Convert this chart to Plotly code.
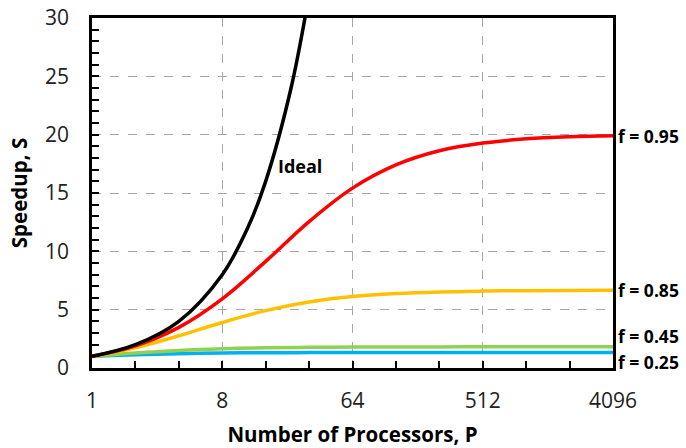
import plotly.graph_objects as go

# Number of processors (P)
processors = [1, 2, 4, 8, 16, 32, 64, 128, 256, 512, 1024, 2048, 4096]
ideal_p = [1, 2, 4, 8, 12, 16, 24, 32]
ideal_s = [1, 2, 4, 8, 12, 16, 24, 32]

speedup_095 = [1.00, 1.90, 3.48, 5.93, 9.14, 12.55, 15.42, 17.41, 18.62, 19.28, 19.64, 19.82, 19.91]
speedup_085 = [1.00, 1.74, 2.76, 3.90, 4.92, 5.66, 6.12, 6.38, 6.52, 6.59, 6.63, 6.65, 6.66]
speedup_045 = [1.00, 1.29, 1.51, 1.65, 1.73, 1.77, 1.80, 1.81, 1.81, 1.82, 1.82, 1.82, 1.82]
speedup_025 = [1.00, 1.14, 1.23, 1.28, 1.31, 1.32, 1.33, 1.33, 1.33, 1.33, 1.33, 1.33, 1.33]

series = [
    ("f = 0.25", speedup_025, "#00B0F0"),
    ("f = 0.45", speedup_045, "#92D050"),
    ("f = 0.85", speedup_085, "#FFC000"),
    ("f = 0.95", speedup_095, "#FF0000"),
]
label_y = {"f = 0.95": 19.9, "f = 0.85": 6.66, "f = 0.45": 2.75, "f = 0.25": 0.5}

x_ticks = [1, 8, 64, 512, 4096]
x_minor = [2, 4, 16, 32, 128, 256, 1024, 2048]
y_ticks = [0, 5, 10, 15, 20, 25, 30]

FONT = "Open Sans"

fig = go.Figure()
for name, vals, color in series:
    fig.add_trace(go.Scatter(x=processors, y=vals, mode="lines", name=name,
                             line=dict(color=color, width=3.5, shape="spline", smoothing=1.0)))
fig.add_trace(go.Scatter(x=ideal_p, y=ideal_s, mode="lines", name="Ideal",
                         line=dict(color="black", width=3.5, shape="spline", smoothing=1.0)))

annotations = []
for name, vals, color in series:
    annotations.append(dict(x=1, xref="paper", xanchor="left", xshift=3,
                            y=label_y[name], yref="y", yanchor="middle",
                            text="<b>" + name + "</b>", showarrow=False,
                            font=dict(family=FONT, size=17.5, color="black")))
annotations.append(dict(x=1.445, xref="x", y=17.3, yref="y", text="<b>Ideal</b>",
                        showarrow=False, font=dict(family=FONT, size=18, color="black")))

fig.update_layout(
    width=686, height=448,
    margin=dict(l=92, r=73, t=18, b=80, autoexpand=False),
    paper_bgcolor="white", plot_bgcolor="white",
    showlegend=False,
    font=dict(family=FONT, size=21, color="black"),
    annotations=annotations,
    xaxis=dict(type="log", range=[0, 3.61236], tickvals=x_ticks,
               ticktext=[str(v) for v in x_ticks], automargin=False,
               showline=True, mirror=True, linecolor="black", linewidth=2.5,
               showgrid=True, gridcolor="#A6A6A6", griddash="dash", gridwidth=1,
               ticks="inside", ticklen=7, tickcolor="black", tickwidth=1.5,
               ticklabelstandoff=12, tickfont=dict(size=21, color="#222"),
               minor=dict(tickvals=x_minor, ticks="inside", ticklen=7,
                          tickcolor="black", tickwidth=1.5, showgrid=False),
               title=dict(text="<b>Number of Processors, P</b>", font=dict(size=20.5), standoff=16),
               zeroline=False),
    yaxis=dict(range=[0, 30], tickvals=y_ticks, automargin=False,
               showline=True, mirror=True, linecolor="black", linewidth=2.5,
               showgrid=True, gridcolor="#A6A6A6", griddash="dash", gridwidth=1,
               ticks="inside", ticklen=7, tickcolor="black", tickwidth=1.5,
               ticklabelstandoff=16, tickfont=dict(size=21, color="#222"),
               minor=dict(dtick=1, ticks="inside", ticklen=7,
                          tickcolor="black", tickwidth=1.5, showgrid=False),
               title=dict(text="<b>Speedup, S</b>", font=dict(size=20.5), standoff=12),
               zeroline=False),
)

fig.write_html("out.html")
